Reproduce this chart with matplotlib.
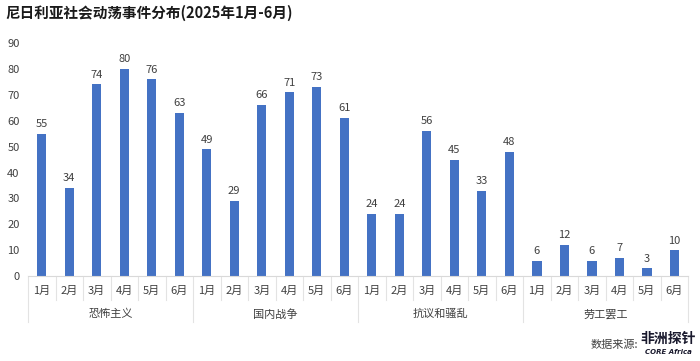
import matplotlib.pyplot as plt
from matplotlib.lines import Line2D

plt.rcParams['font.family'] = ['Noto Sans CJK SC', 'DejaVu Sans']

groups = ['恐怖主义', '国内战争', '抗议和骚乱', '劳工罢工']
months = ['1月', '2月', '3月', '4月', '5月', '6月']
terror = [55, 34, 74, 80, 76, 63]
civil_war = [49, 29, 66, 71, 73, 61]
protest = [24, 24, 56, 45, 33, 48]
strike = [6, 12, 6, 7, 3, 10]

values = terror + civil_war + protest + strike
n = len(values)
x = list(range(n))

fig = plt.figure(figsize=(7, 3.61), dpi=100)
ax = fig.add_axes([0.04, 0.235, 0.943, 0.646])

bars = ax.bar(x, values, width=0.34, color='#4472C4')
for b, v in zip(bars, values):
    ax.text(b.get_x() + b.get_width() / 2, v + 1.8, str(v), ha='center', va='bottom',
            fontsize=8, color='#404040')

ax.set_xlim(-0.5, n - 0.5)
ax.set_ylim(0, 90)
ax.set_yticks(range(0, 91, 10))
ax.tick_params(axis='y', length=0, labelsize=8, labelcolor='#404040', pad=6)
ax.set_xticks([])
for s in ['top', 'right', 'left']:
    ax.spines[s].set_visible(False)
ax.spines['bottom'].set_color('#d9d9d9')

# month and group labels below the axis
trans = ax.get_xaxis_transform()
for i in range(n):
    ax.text(i, -0.064, months[i % 6], transform=trans, ha='center', va='center',
            fontsize=8, color='#404040')
for g, name in enumerate(groups):
    ax.text(g * 6 + 2.5, -0.163, name, transform=trans, ha='center', va='center',
            fontsize=8, color='#404040')
for i in range(n + 1):
    xb = i - 0.5
    low = -0.197 if i % 6 == 0 else -0.103
    ax.add_line(Line2D([xb, xb], [0, low], transform=trans, color='#e3e3e3',
                       lw=0.8, clip_on=False))

fig.text(0.007, 0.965, '尼日利亚社会动荡事件分布(2025年1月-6月)', fontsize=10.5,
         fontweight='bold', va='center', ha='left', color='#1a1a1a')
fig.text(0.912, 0.045, '数据来源:', fontsize=8, ha='right', va='center', color='#404040')
fig.text(0.955, 0.06, '非洲探针', fontsize=10, ha='center', va='center', fontweight='bold',
         style='italic', color='#1a1a2e')
fig.text(0.955, 0.025, 'CORE Africa', fontsize=5, ha='center', va='center',
         fontweight='bold', style='italic', color='#1a1a2e', family='DejaVu Sans')

fig.savefig('out.png', dpi=100)
